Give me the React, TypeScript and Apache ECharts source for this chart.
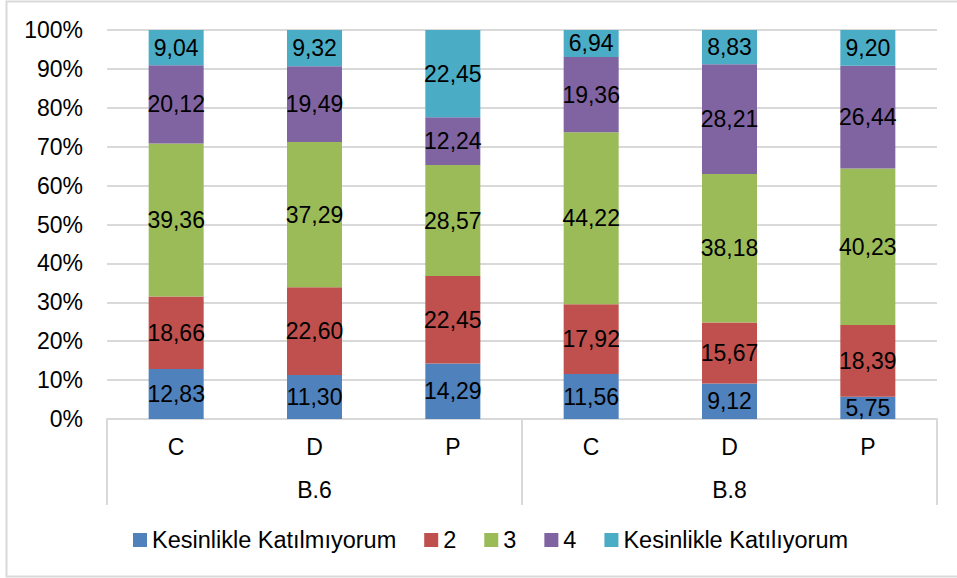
import React, { useEffect, useRef } from "react";
import * as echarts from "echarts";

const subCategories = ["C", "D", "P", "C", "D", "P"];
const groupCategories = ["B.6", "B.8"];
const yTickLabels = ["0%", "10%", "20%", "30%", "40%", "50%", "60%", "70%", "80%", "90%", "100%"];

const seriesNames = ["Kesinlikle Katılmıyorum", "2", "3", "4", "Kesinlikle Katılıyorum"];
const seriesColors = ["#4F81BD", "#C0504D", "#9BBB59", "#8064A2", "#4BACC6"];

const kesinlikleKatilmiyorum = [12.83, 11.3, 14.29, 11.56, 9.12, 5.75];
const level2 = [18.66, 22.6, 22.45, 17.92, 15.67, 18.39];
const level3 = [39.36, 37.29, 28.57, 44.22, 38.18, 40.23];
const level4 = [20.12, 19.49, 12.24, 19.36, 28.21, 26.44];
const kesinlikleKatiliyorum = [9.04, 9.32, 22.45, 6.94, 8.83, 9.2];

const allSeries = [kesinlikleKatilmiyorum, level2, level3, level4, kesinlikleKatiliyorum];

const FONT = "'Liberation Sans', Arial, sans-serif";

export default function App() {
  const ref = useRef<HTMLDivElement>(null);

  useEffect(() => {
    if (!ref.current) return;
    const chart = echarts.init(ref.current, undefined, { renderer: "svg" });
    const option: any = {
      animation: false,
      backgroundColor: "#ffffff",
      textStyle: { fontFamily: FONT, color: "#000" },
      graphic: [
        {
          type: "rect",
          shape: { x: 6.5, y: 1.5, width: 970, height: 575 },
          style: { fill: "none", stroke: "#D9D9D9", lineWidth: 2 },
          silent: true,
          z: -1,
        },
      ],
      grid: { left: 107, right: 20, top: 30, bottom: 159, containLabel: false },
      legend: {
        left: 128,
        top: 523,
        itemWidth: 14,
        itemHeight: 14,
        itemGap: 28,
        icon: "rect",
        textStyle: { fontFamily: FONT, fontSize: 23.5, color: "#000" },
        data: seriesNames,
      },
      xAxis: [
        {
          type: "category",
          data: subCategories,
          position: "bottom",
          axisLine: { show: true, lineStyle: { color: "#D9D9D9", width: 2 } },
          axisTick: { show: false },
          axisLabel: { margin: 16, fontSize: 23, color: "#000", fontFamily: FONT, interval: 0 },
          splitLine: { show: false },
        },
        {
          type: "category",
          data: groupCategories,
          position: "bottom",
          axisLine: { show: false },
          axisTick: { show: true, length: 86, lineStyle: { color: "#D9D9D9", width: 2 } },
          axisLabel: { margin: 59, fontSize: 23, color: "#000", fontFamily: FONT, interval: 0 },
          splitLine: { show: false },
        },
      ],
      yAxis: {
        type: "value",
        min: 0,
        max: 100,
        interval: 10,
        axisLine: { show: false },
        axisTick: { show: false },
        axisLabel: {
          margin: 24,
          fontSize: 23,
          color: "#000",
          fontFamily: FONT,
          formatter: (v: number) => yTickLabels[Math.round(v / 10)],
        },
        splitLine: { show: true, lineStyle: { color: "#D9D9D9", width: 2 } },
      },
      series: seriesNames.map((name, i) => ({
        name,
        type: "bar",
        stack: "total",
        xAxisIndex: 0,
        barWidth: 55,
        itemStyle: { color: seriesColors[i] },
        label: {
          show: true,
          position: "inside",
          fontSize: 23,
          color: "#000",
          fontFamily: FONT,
          formatter: (p: any) => Number(p.value).toFixed(2).replace(".", ","),
        },
        data: allSeries[i],
      })),
    };
    chart.setOption(option);
    return () => chart.dispose();
  }, []);

  return (
    <div
      ref={ref}
      style={{ position: "fixed", left: 0, top: 0, width: 957, height: 578 }}
    />
  );
}
